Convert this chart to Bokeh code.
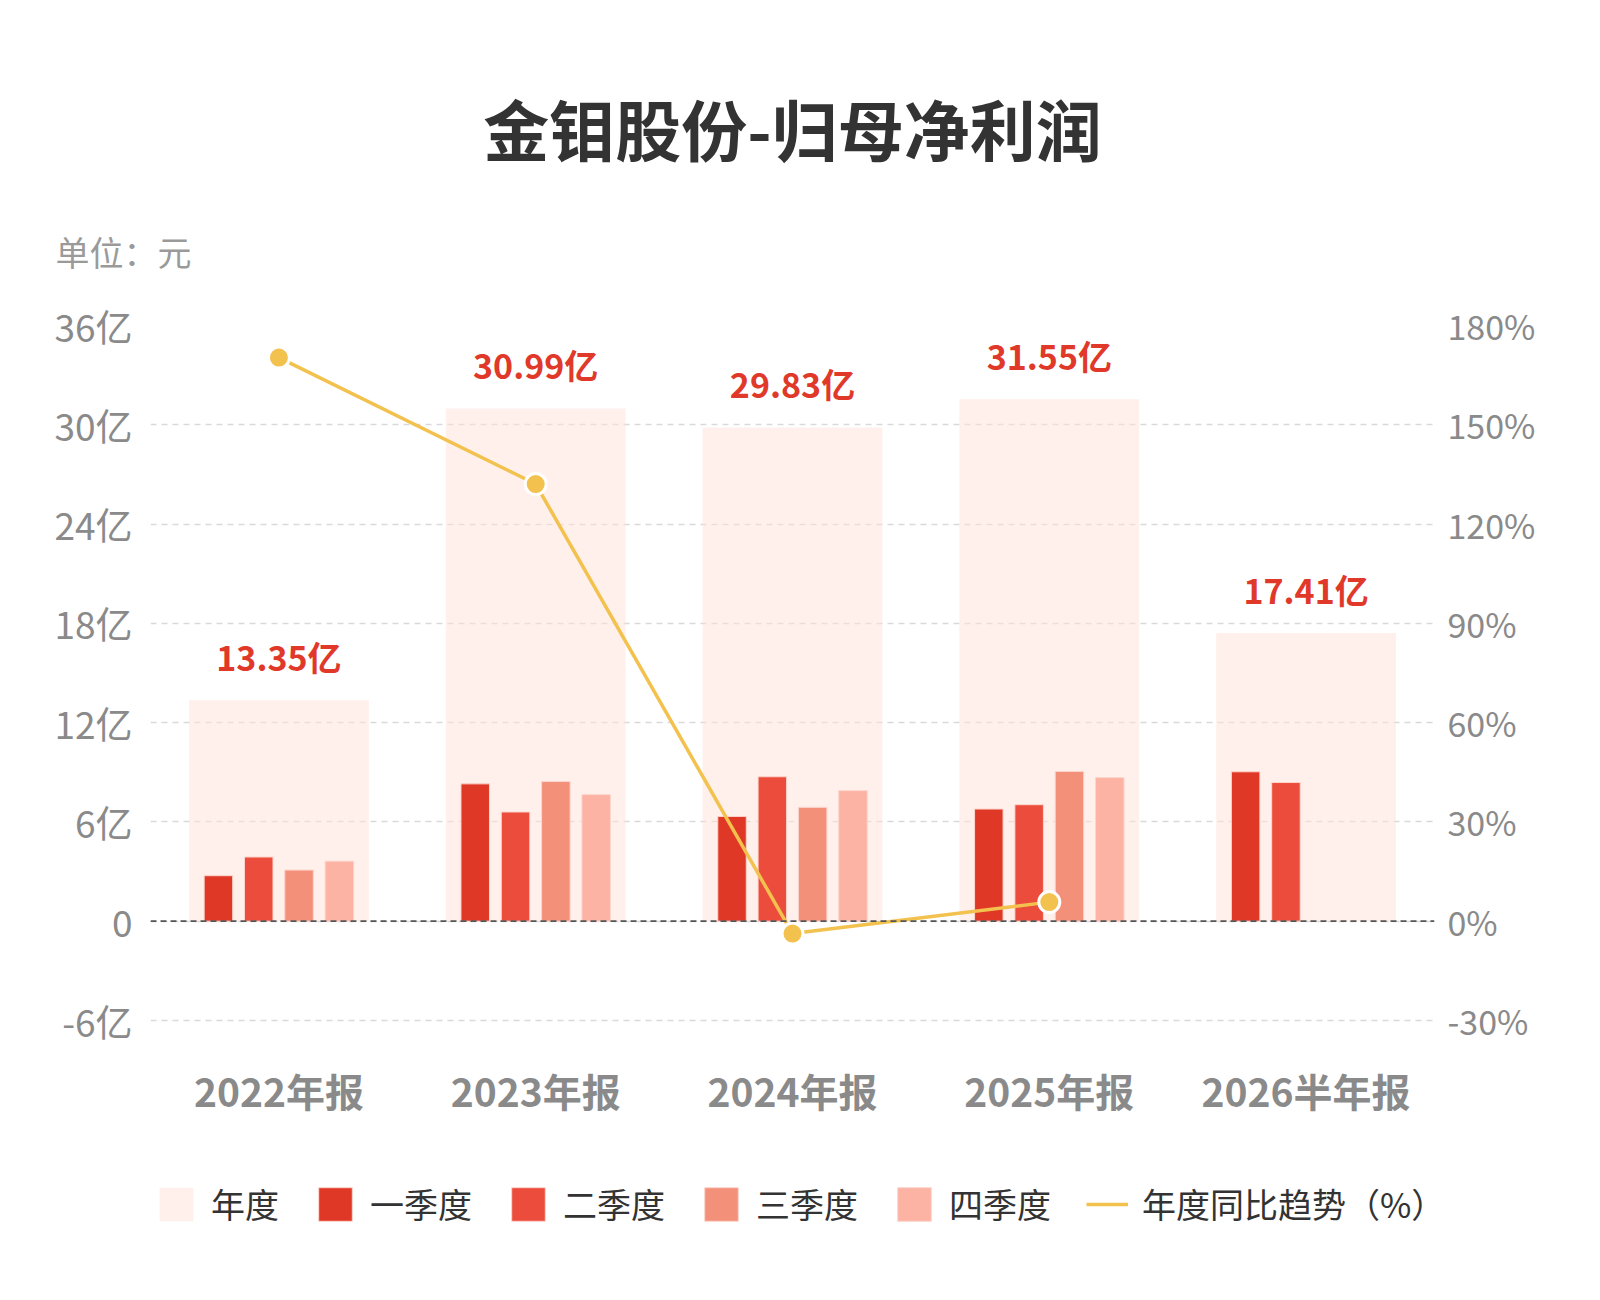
import numpy as np
from bokeh.plotting import figure
from bokeh.models import (ColumnDataSource, FactorRange, Range1d, LinearAxis, FixedTicker,
                          Title, Legend, LegendItem, Span)
from bokeh.transform import dodge
from bokeh.core.properties import value
from bokeh.embed import file_html
from bokeh.resources import INLINE

FONT = "Noto Sans CJK SC"

# data (亿元)
periods = ["2022年报", "2023年报", "2024年报", "2025年报", "2026半年报"]
annual = [13.35, 30.99, 29.83, 31.55, 17.41]
q1 = [2.75, 8.30, 6.33, 6.78, 9.03]
q2 = [3.88, 6.60, 8.73, 7.04, 8.38]
q3 = [3.09, 8.44, 6.88, 9.05, np.nan]
q4 = [3.63, 7.65, 7.89, 8.68, np.nan]
yoy_periods = ["2022年报", "2023年报", "2024年报", "2025年报"]
yoy = [170.3, 132.1, -3.74, 5.77]

left_ticks = [-6, 0, 6, 12, 18, 24, 30, 36]
left_labels = ["-6亿", "0", "6亿", "12亿", "18亿", "24亿", "30亿", "36亿"]
right_ticks = [-30, 0, 30, 60, 90, 120, 150, 180]
right_labels = ["-30%", "0%", "30%", "60%", "90%", "120%", "150%", "180%"]

bg_color = "#ffe1d9"
q_colors = ["#e03826", "#eb4c3b", "#f3907a", "#fcb3a3"]
line_color = "#f2c14e"

src = ColumnDataSource(dict(
    period=periods, annual=annual, q1=q1, q2=q2, q3=q3, q4=q4,
    label=[f"{v:.2f}亿" for v in annual],
))
yoy_src = ColumnDataSource(dict(period=yoy_periods, yoy=yoy))

# layout: value axis spans 695px from -6 to 36; the frame runs on below it
# so the category labels and the legend can sit inside the frame
H, TOP, AXIS_H = 1284, 325, 695
px_per_unit = AXIS_H / (left_ticks[-1] - left_ticks[0])
y_low = left_ticks[0] - (H - TOP - AXIS_H) / px_per_unit
pct_scale = right_ticks[-1] / left_ticks[-1]

p = figure(width=1584, height=H,
           x_range=FactorRange(*periods, range_padding=0),
           y_range=Range1d(y_low, left_ticks[-1]),
           x_axis_location=None,
           output_backend="svg", toolbar_location=None,
           min_border_left=150, min_border_right=150,
           min_border_top=TOP, min_border_bottom=0)
p.extra_y_ranges = {"pct": Range1d(y_low * pct_scale, right_ticks[-1])}
p.outline_line_color = None
p.xgrid.visible = False
p.ygrid.ticker = FixedTicker(ticks=left_ticks)
p.ygrid.grid_line_color = "#d9d9d9"
p.ygrid.grid_line_dash = "6 5"
p.ygrid.grid_line_width = 1.5

# main title (outermost) and unit line (closest to the plot)
p.title.text = "金钼股份-归母净利润"
p.title.align = "center"
p.title.standoff = 0
p.title.text_font = FONT
p.title.text_font_style = "bold"
p.title.text_font_size = "66px"
p.title.text_color = "#333333"
p.add_layout(Title(text="单位：元", align="left", offset=-95, standoff=100,
                   text_font=FONT, text_font_style="normal", text_font_size="34px",
                   text_color="#9a9a9a"), "above")

bg = p.vbar(x="period", top="annual", bottom=0, width=0.70, source=src,
            fill_color=bg_color, fill_alpha=0.5, line_color=None)

offsets = [-0.2355, -0.0785, 0.0785, 0.2355]
qbars = []
for col, off, c in zip(["q1", "q2", "q3", "q4"], offsets, q_colors):
    qbars.append(p.vbar(x=dodge("period", off, range=p.x_range), top=col, bottom=0,
                        width=0.111, source=src, fill_color=c,
                        line_color="#fdd5cc", line_width=1))

p.add_layout(Span(location=0, dimension="width", line_color="#555555",
                  line_dash="6 4", line_width=1.8))

trend = p.line(x="period", y="yoy", source=yoy_src, y_range_name="pct",
               line_color=line_color, line_width=3.5)
p.scatter(x="period", y="yoy", source=yoy_src, y_range_name="pct", size=21,
          fill_color=line_color, line_color="white", line_width=3)

p.text(x="period", y="annual", text="label", source=src, y_offset=-44,
       text_align="center", text_baseline="middle", text_color="#e0392a",
       text_font=value(FONT), text_font_style="bold", text_font_size="34px")

# category labels under the value axis
p.text(x="period", y=left_ticks[0], text="period", source=src, y_offset=69,
       text_align="center", text_baseline="middle", text_color="#8a8a8a",
       text_font=value(FONT), text_font_style="bold", text_font_size="39px")

p.yaxis.ticker = FixedTicker(ticks=left_ticks)
p.yaxis.major_label_overrides = dict(zip(left_ticks, left_labels))
p.yaxis.axis_line_color = None
p.yaxis.major_tick_line_color = None
p.yaxis.minor_tick_line_color = None
p.yaxis.major_tick_out = 0
p.yaxis.major_label_standoff = 18
p.yaxis.major_label_text_font = FONT
p.yaxis.major_label_text_font_size = "37px"
p.yaxis.major_label_text_color = "#8a8a8a"

ry = LinearAxis(y_range_name="pct", ticker=FixedTicker(ticks=right_ticks),
                major_label_overrides=dict(zip(right_ticks, right_labels)))
ry.axis_line_color = None
ry.major_tick_line_color = None
ry.minor_tick_line_color = None
ry.major_tick_out = 0
ry.major_label_standoff = 13
ry.major_label_text_font = FONT
ry.major_label_text_font_size = "34px"
ry.major_label_text_color = "#8a8a8a"
p.add_layout(ry, "right")

legend = Legend(items=[
    LegendItem(label="年度", renderers=[bg]),
    LegendItem(label="一季度", renderers=[qbars[0]]),
    LegendItem(label="二季度", renderers=[qbars[1]]),
    LegendItem(label="三季度", renderers=[qbars[2]]),
    LegendItem(label="四季度", renderers=[qbars[3]]),
    LegendItem(label="年度同比趋势（%）", renderers=[trend]),
], orientation="horizontal", location=(5, 56),
    glyph_width=42, glyph_height=42, label_standoff=14, spacing=35,
    label_text_font=FONT, label_text_font_size="34px", label_text_color="#333333",
    border_line_color=None, background_fill_alpha=0, padding=0, margin=0)
p.add_layout(legend, "center")

open("out.html", "w").write(file_html(p, INLINE))
